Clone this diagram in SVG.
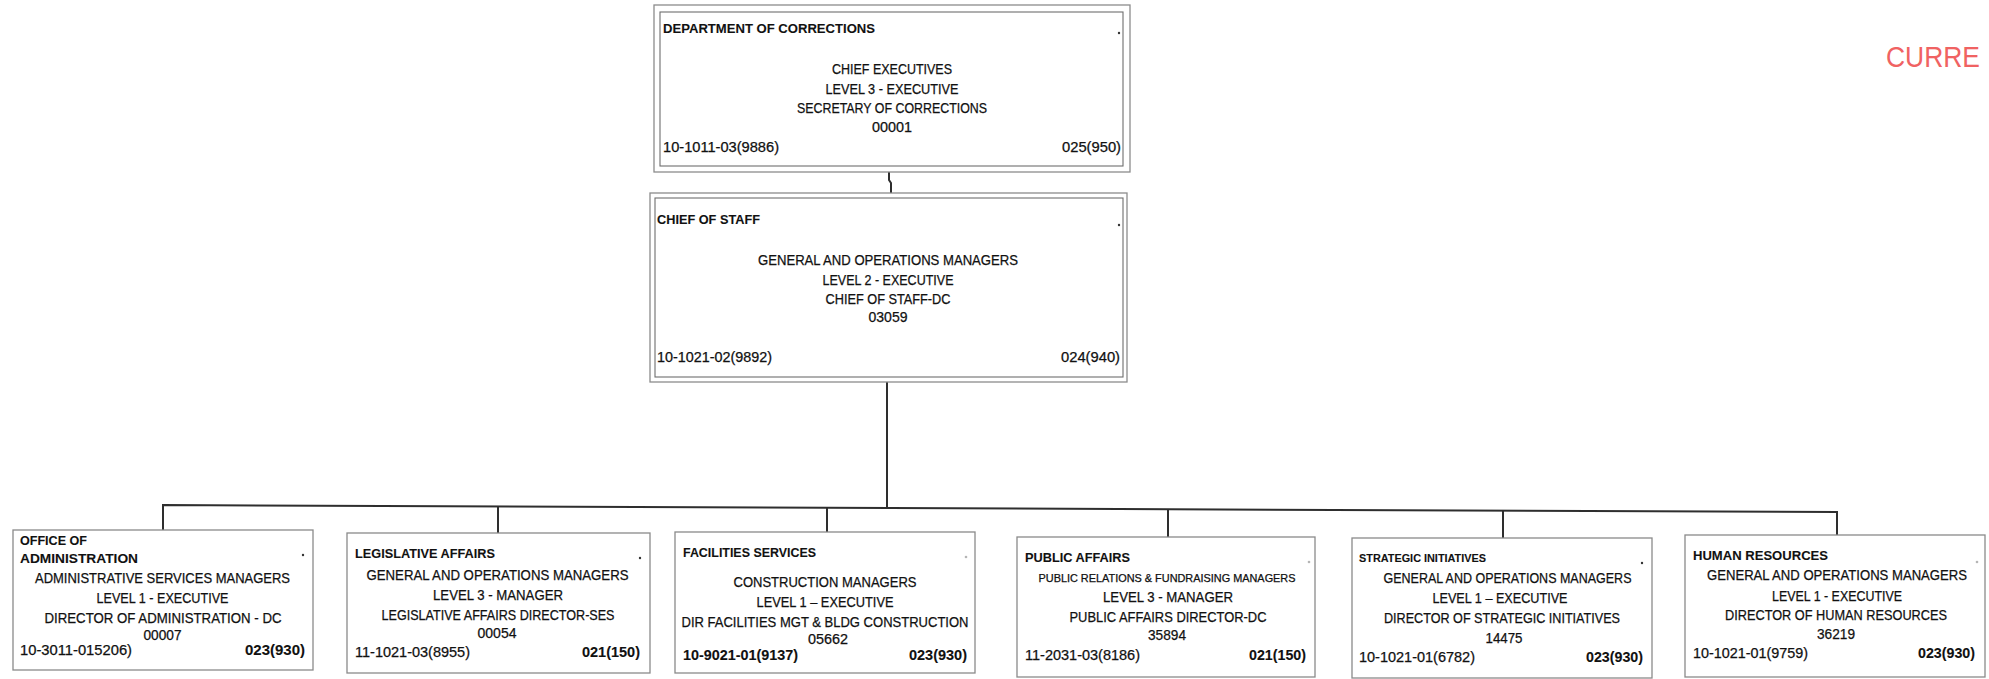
<svg xmlns="http://www.w3.org/2000/svg" width="1989" height="679" viewBox="0 0 1989 679">
  <style>
    text { font-family: "Liberation Sans", Arial, sans-serif; fill: #111; stroke: #111; stroke-width: 0.25; }
    .t { font-size: 14px; }
    .h { font-size: 13.5px; font-weight: bold; stroke-width: 0.1; }
    .hs { font-size: 11px; font-weight: bold; stroke-width: 0.1; }
    .s { font-size: 10.5px; }
    .bd { font-weight: bold; stroke-width: 0.1; }
    .c { text-anchor: middle; }
    .r { text-anchor: end; }
    .outer { fill: #fff; stroke: #8c8c8c; stroke-width: 1.3; }
    .inner { fill: none; stroke: #6e6e6e; stroke-width: 1.1; }
    .box { fill: #fff; stroke: #8a8a8a; stroke-width: 1.3; }
    .dot { fill: #333; }
    .faint { fill: #b5b5b5; }
    .wire { fill: none; stroke: #2e2e2e; stroke-width: 2; }
    .stamp { font-size: 30px; fill: #f06262; stroke: none; }
  </style>

  <rect width="1989" height="679" fill="#fff"/>

  <!-- connectors -->
  <g id="connectors">
    <path class="wire" d="M889,166 V180 L891,183 V198"/>
    <path class="wire" d="M887,382 V508"/>
    <path class="wire" d="M163,530 V505 L1837,512 V535"/>
    <path class="wire" d="M498,506.4 V533"/>
    <path class="wire" d="M827,507.8 V532"/>
    <path class="wire" d="M1168,509.2 V537"/>
    <path class="wire" d="M1503,510.6 V538"/>
  </g>

  <!-- top: department -->
  <g id="node-department">
    <rect class="outer" x="654" y="5" width="476" height="167"/>
    <rect class="inner" x="660" y="12" width="463" height="154"/>
    <text class="h" x="663" y="33" textLength="212" lengthAdjust="spacingAndGlyphs">DEPARTMENT OF CORRECTIONS</text>
    <circle class="dot" cx="1119" cy="33" r="1.2"/>
    <text class="t c" x="892" y="74" textLength="120" lengthAdjust="spacingAndGlyphs">CHIEF EXECUTIVES</text>
    <text class="t c" x="892" y="94" textLength="133" lengthAdjust="spacingAndGlyphs">LEVEL 3 - EXECUTIVE</text>
    <text class="t c" x="892" y="113" textLength="190" lengthAdjust="spacingAndGlyphs">SECRETARY OF CORRECTIONS</text>
    <text class="t c" x="892" y="132" textLength="40" lengthAdjust="spacingAndGlyphs">00001</text>
    <text class="t" x="663" y="152" textLength="116" lengthAdjust="spacingAndGlyphs">10-1011-03(9886)</text>
    <text class="t r" x="1121" y="152" textLength="59" lengthAdjust="spacingAndGlyphs">025(950)</text>
  </g>

  <!-- chief of staff -->
  <g id="node-chief-of-staff">
    <rect class="outer" x="650" y="193" width="477" height="189"/>
    <rect class="inner" x="655" y="198" width="468" height="179"/>
    <text class="h" x="657" y="224" textLength="103" lengthAdjust="spacingAndGlyphs">CHIEF OF STAFF</text>
    <circle class="dot" cx="1119" cy="225" r="1.2"/>
    <text class="t c" x="888" y="265" textLength="260" lengthAdjust="spacingAndGlyphs">GENERAL AND OPERATIONS MANAGERS</text>
    <text class="t c" x="888" y="285" textLength="131" lengthAdjust="spacingAndGlyphs">LEVEL 2 - EXECUTIVE</text>
    <text class="t c" x="888" y="304" textLength="125" lengthAdjust="spacingAndGlyphs">CHIEF OF STAFF-DC</text>
    <text class="t c" x="888" y="322" textLength="39" lengthAdjust="spacingAndGlyphs">03059</text>
    <text class="t" x="657" y="362" textLength="115" lengthAdjust="spacingAndGlyphs">10-1021-02(9892)</text>
    <text class="t r" x="1120" y="362" textLength="59" lengthAdjust="spacingAndGlyphs">024(940)</text>
  </g>

  <!-- office of administration -->
  <g id="node-administration">
    <rect class="box" x="13" y="530" width="300" height="140"/>
    <text class="h" x="20" y="545" textLength="67" lengthAdjust="spacingAndGlyphs">OFFICE OF</text>
    <text class="h" x="20" y="563" textLength="118" lengthAdjust="spacingAndGlyphs">ADMINISTRATION</text>
    <circle class="dot" cx="303" cy="555" r="1.2"/>
    <text class="t c" x="162.5" y="583" textLength="255" lengthAdjust="spacingAndGlyphs">ADMINISTRATIVE SERVICES MANAGERS</text>
    <text class="t c" x="162.5" y="603" textLength="132" lengthAdjust="spacingAndGlyphs">LEVEL 1 - EXECUTIVE</text>
    <text class="t c" x="163" y="623" textLength="237" lengthAdjust="spacingAndGlyphs">DIRECTOR OF ADMINISTRATION - DC</text>
    <text class="t c" x="162.5" y="640" textLength="38" lengthAdjust="spacingAndGlyphs">00007</text>
    <text class="t" x="20" y="655" textLength="112" lengthAdjust="spacingAndGlyphs">10-3011-015206)</text>
    <text class="t bd r" x="305" y="655" textLength="60" lengthAdjust="spacingAndGlyphs">023(930)</text>
  </g>

  <!-- legislative affairs -->
  <g id="node-legislative">
    <rect class="box" x="347" y="533" width="303" height="140"/>
    <text class="h" x="355" y="558" textLength="140" lengthAdjust="spacingAndGlyphs">LEGISLATIVE AFFAIRS</text>
    <circle class="dot" cx="640" cy="558" r="1.2"/>
    <text class="t c" x="497.5" y="580" textLength="262" lengthAdjust="spacingAndGlyphs">GENERAL AND OPERATIONS MANAGERS</text>
    <text class="t c" x="498" y="600" textLength="130" lengthAdjust="spacingAndGlyphs">LEVEL 3 - MANAGER</text>
    <text class="t c" x="498" y="620" textLength="233" lengthAdjust="spacingAndGlyphs">LEGISLATIVE AFFAIRS DIRECTOR-SES</text>
    <text class="t c" x="497" y="638" textLength="39" lengthAdjust="spacingAndGlyphs">00054</text>
    <text class="t" x="355" y="657" textLength="115" lengthAdjust="spacingAndGlyphs">11-1021-03(8955)</text>
    <text class="t bd r" x="640" y="657" textLength="58" lengthAdjust="spacingAndGlyphs">021(150)</text>
  </g>

  <!-- facilities services -->
  <g id="node-facilities">
    <rect class="box" x="675" y="532" width="300" height="141"/>
    <text class="h" x="683" y="557" textLength="133" lengthAdjust="spacingAndGlyphs">FACILITIES SERVICES</text>
    <circle class="faint" cx="966" cy="557" r="1.3"/>
    <text class="t c" x="825" y="587" textLength="183" lengthAdjust="spacingAndGlyphs">CONSTRUCTION MANAGERS</text>
    <text class="t c" x="825" y="607" textLength="137" lengthAdjust="spacingAndGlyphs">LEVEL 1 – EXECUTIVE</text>
    <text class="t c" x="825" y="627" textLength="287" lengthAdjust="spacingAndGlyphs">DIR FACILITIES MGT &amp; BLDG CONSTRUCTION</text>
    <text class="t c" x="828" y="644" textLength="40" lengthAdjust="spacingAndGlyphs">05662</text>
    <text class="t bd" x="683" y="660" textLength="115" lengthAdjust="spacingAndGlyphs">10-9021-01(9137)</text>
    <text class="t bd r" x="967" y="660" textLength="58" lengthAdjust="spacingAndGlyphs">023(930)</text>
  </g>

  <!-- public affairs -->
  <g id="node-public-affairs">
    <rect class="box" x="1017" y="537" width="298" height="140"/>
    <text class="h" x="1025" y="562" textLength="105" lengthAdjust="spacingAndGlyphs">PUBLIC AFFAIRS</text>
    <circle class="faint" cx="1309" cy="562" r="1.3"/>
    <text class="s c" x="1167" y="582" textLength="257" lengthAdjust="spacingAndGlyphs">PUBLIC RELATIONS &amp; FUNDRAISING MANAGERS</text>
    <text class="t c" x="1168" y="602" textLength="130" lengthAdjust="spacingAndGlyphs">LEVEL 3 - MANAGER</text>
    <text class="t c" x="1168" y="622" textLength="197" lengthAdjust="spacingAndGlyphs">PUBLIC AFFAIRS DIRECTOR-DC</text>
    <text class="t c" x="1167" y="640" textLength="38" lengthAdjust="spacingAndGlyphs">35894</text>
    <text class="t" x="1025" y="660" textLength="115" lengthAdjust="spacingAndGlyphs">11-2031-03(8186)</text>
    <text class="t bd r" x="1306" y="660" textLength="57" lengthAdjust="spacingAndGlyphs">021(150)</text>
  </g>

  <!-- strategic initiatives -->
  <g id="node-strategic">
    <rect class="box" x="1352" y="538" width="300" height="140"/>
    <text class="hs" x="1359" y="562" textLength="127" lengthAdjust="spacingAndGlyphs">STRATEGIC INITIATIVES</text>
    <circle class="dot" cx="1642" cy="563" r="1.2"/>
    <text class="t c" x="1507.5" y="583" textLength="248" lengthAdjust="spacingAndGlyphs">GENERAL AND OPERATIONS MANAGERS</text>
    <text class="t c" x="1500" y="603" textLength="135" lengthAdjust="spacingAndGlyphs">LEVEL 1 – EXECUTIVE</text>
    <text class="t c" x="1502" y="623" textLength="236" lengthAdjust="spacingAndGlyphs">DIRECTOR OF STRATEGIC INITIATIVES</text>
    <text class="t c" x="1504" y="643" textLength="37" lengthAdjust="spacingAndGlyphs">14475</text>
    <text class="t" x="1359" y="662" textLength="116" lengthAdjust="spacingAndGlyphs">10-1021-01(6782)</text>
    <text class="t bd r" x="1643" y="662" textLength="57" lengthAdjust="spacingAndGlyphs">023(930)</text>
  </g>

  <!-- human resources -->
  <g id="node-human-resources">
    <rect class="box" x="1685" y="535" width="300" height="142"/>
    <text class="h" x="1693" y="560" textLength="135" lengthAdjust="spacingAndGlyphs">HUMAN RESOURCES</text>
    <circle class="faint" cx="1977" cy="562" r="1.3"/>
    <text class="t c" x="1837" y="580" textLength="260" lengthAdjust="spacingAndGlyphs">GENERAL AND OPERATIONS MANAGERS</text>
    <text class="t c" x="1837" y="601" textLength="130" lengthAdjust="spacingAndGlyphs">LEVEL 1 - EXECUTIVE</text>
    <text class="t c" x="1836" y="620" textLength="222" lengthAdjust="spacingAndGlyphs">DIRECTOR OF HUMAN RESOURCES</text>
    <text class="t c" x="1836" y="639" textLength="38" lengthAdjust="spacingAndGlyphs">36219</text>
    <text class="t" x="1693" y="658" textLength="115" lengthAdjust="spacingAndGlyphs">10-1021-01(9759)</text>
    <text class="t bd r" x="1975" y="658" textLength="57" lengthAdjust="spacingAndGlyphs">023(930)</text>
  </g>

  <!-- status stamp at the right edge -->
  <text class="stamp" x="1886" y="67" textLength="94" lengthAdjust="spacingAndGlyphs">CURRE</text>
</svg>
